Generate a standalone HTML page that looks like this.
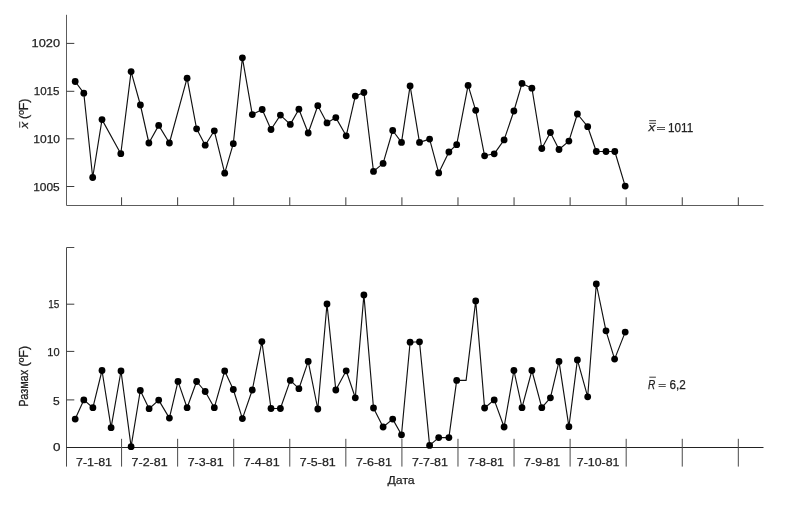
<!DOCTYPE html>
<html lang="ru"><head><meta charset="utf-8"><title>Chart</title>
<style>
html,body{margin:0;padding:0;background:#fff}
body{width:790px;height:509px;overflow:hidden}
svg{display:block}
text{font-family:"Liberation Sans",sans-serif;font-size:11.8px;fill:#222;stroke:#222;stroke-width:0.25px}
.ax{stroke:#3c3c3c;stroke-width:1;fill:none}
.ln{stroke:#111;stroke-width:1.15;fill:none;stroke-linejoin:round}
.pt{fill:#000}
</style></head><body>
<svg width="790" height="509" viewBox="0 0 790 509">
<rect width="790" height="509" fill="#fff"/>
<g class="ax"><path stroke="#5c5c5c" d="M66.5 14.8V205.5H763.5"/><path d="M66.5 43.4H74.3"/><path d="M66.5 91.3H74.3"/><path d="M66.5 138.8H74.3"/><path d="M66.5 186.5H74.3"/><path d="M121.57 205.5V197.3"/><path d="M177.64 205.5V197.3"/><path d="M233.71 205.5V197.3"/><path d="M289.77 205.5V197.3"/><path d="M345.84 205.5V197.3"/><path d="M401.91 205.5V197.3"/><path d="M457.98 205.5V197.3"/><path d="M514.05 205.5V197.3"/><path d="M570.11 205.5V197.3"/><path d="M626.18 205.5V197.3"/><path d="M682.25 205.5V197.3"/><path d="M738.32 205.5V197.3"/><path stroke="#4a4a4a" d="M74.3 247.5H66.5V466.6"/><path stroke="#222" d="M66.5 447.5H763.5"/><path d="M66.5 304.2H74.3"/><path d="M66.5 351.4H74.3"/><path d="M66.5 399.9H74.3"/><path stroke="#4a4a4a" d="M121.57 438.8V466.6"/><path stroke="#4a4a4a" d="M177.64 438.8V466.6"/><path stroke="#4a4a4a" d="M233.71 438.8V466.6"/><path stroke="#4a4a4a" d="M289.77 438.8V466.6"/><path stroke="#4a4a4a" d="M345.84 438.8V466.6"/><path stroke="#4a4a4a" d="M401.91 438.8V466.6"/><path stroke="#4a4a4a" d="M457.98 438.8V466.6"/><path stroke="#4a4a4a" d="M514.05 438.8V466.6"/><path stroke="#4a4a4a" d="M570.11 438.8V466.6"/><path stroke="#4a4a4a" d="M626.18 438.8V466.6"/><path stroke="#4a4a4a" d="M682.25 438.8V466.6"/><path stroke="#4a4a4a" d="M738.32 438.8V466.6"/></g>
<polyline class="ln" points="75.2,81.5 83.8,93.2 92.7,177.5 102.0,119.6 120.8,153.7 131.1,71.6 140.4,105.0 148.9,143.0 158.7,125.4 169.4,143.0 187.1,78.2 196.6,128.8 205.2,145.2 214.3,130.8 224.7,173.2 233.3,143.7 242.4,57.8 252.3,114.6 262.2,109.5 271.0,129.5 280.4,115.1 290.3,124.4 298.9,109.2 308.2,133.0 317.8,105.7 327.0,122.9 335.8,117.6 346.2,135.8 355.3,96.1 363.9,92.5 373.5,171.4 383.1,163.4 392.7,130.5 401.5,142.4 410.1,85.9 419.5,142.4 429.6,139.1 438.7,172.9 448.9,152.0 456.7,144.7 468.1,85.4 475.7,110.3 484.6,155.8 494.2,153.8 504.1,139.9 513.9,111.0 522.0,83.4 531.9,88.2 541.8,148.5 550.4,132.5 559.0,149.5 568.9,141.1 577.4,114.0 587.7,126.7 596.3,151.5 606.0,151.5 614.8,151.5 625.2,186.1"/>
<g class="pt"><circle cx="75.2" cy="81.5" r="3.4"/><circle cx="83.8" cy="93.2" r="3.4"/><circle cx="92.7" cy="177.5" r="3.4"/><circle cx="102.0" cy="119.6" r="3.4"/><circle cx="120.8" cy="153.7" r="3.4"/><circle cx="131.1" cy="71.6" r="3.4"/><circle cx="140.4" cy="105.0" r="3.4"/><circle cx="148.9" cy="143.0" r="3.4"/><circle cx="158.7" cy="125.4" r="3.4"/><circle cx="169.4" cy="143.0" r="3.4"/><circle cx="187.1" cy="78.2" r="3.4"/><circle cx="196.6" cy="128.8" r="3.4"/><circle cx="205.2" cy="145.2" r="3.4"/><circle cx="214.3" cy="130.8" r="3.4"/><circle cx="224.7" cy="173.2" r="3.4"/><circle cx="233.3" cy="143.7" r="3.4"/><circle cx="242.4" cy="57.8" r="3.4"/><circle cx="252.3" cy="114.6" r="3.4"/><circle cx="262.2" cy="109.5" r="3.4"/><circle cx="271.0" cy="129.5" r="3.4"/><circle cx="280.4" cy="115.1" r="3.4"/><circle cx="290.3" cy="124.4" r="3.4"/><circle cx="298.9" cy="109.2" r="3.4"/><circle cx="308.2" cy="133.0" r="3.4"/><circle cx="317.8" cy="105.7" r="3.4"/><circle cx="327.0" cy="122.9" r="3.4"/><circle cx="335.8" cy="117.6" r="3.4"/><circle cx="346.2" cy="135.8" r="3.4"/><circle cx="355.3" cy="96.1" r="3.4"/><circle cx="363.9" cy="92.5" r="3.4"/><circle cx="373.5" cy="171.4" r="3.4"/><circle cx="383.1" cy="163.4" r="3.4"/><circle cx="392.7" cy="130.5" r="3.4"/><circle cx="401.5" cy="142.4" r="3.4"/><circle cx="410.1" cy="85.9" r="3.4"/><circle cx="419.5" cy="142.4" r="3.4"/><circle cx="429.6" cy="139.1" r="3.4"/><circle cx="438.7" cy="172.9" r="3.4"/><circle cx="448.9" cy="152.0" r="3.4"/><circle cx="456.7" cy="144.7" r="3.4"/><circle cx="468.1" cy="85.4" r="3.4"/><circle cx="475.7" cy="110.3" r="3.4"/><circle cx="484.6" cy="155.8" r="3.4"/><circle cx="494.2" cy="153.8" r="3.4"/><circle cx="504.1" cy="139.9" r="3.4"/><circle cx="513.9" cy="111.0" r="3.4"/><circle cx="522.0" cy="83.4" r="3.4"/><circle cx="531.9" cy="88.2" r="3.4"/><circle cx="541.8" cy="148.5" r="3.4"/><circle cx="550.4" cy="132.5" r="3.4"/><circle cx="559.0" cy="149.5" r="3.4"/><circle cx="568.9" cy="141.1" r="3.4"/><circle cx="577.4" cy="114.0" r="3.4"/><circle cx="587.7" cy="126.7" r="3.4"/><circle cx="596.3" cy="151.5" r="3.4"/><circle cx="606.0" cy="151.5" r="3.4"/><circle cx="614.8" cy="151.5" r="3.4"/><circle cx="625.2" cy="186.1" r="3.4"/></g>
<polyline class="ln" points="75.2,419.1 83.8,399.9 92.9,407.7 102.0,370.5 111.1,427.7 121.0,371.0 131.1,446.7 140.3,390.5 149.1,408.7 158.7,400.1 169.4,418.1 178.0,381.4 187.1,407.7 196.6,381.5 205.2,391.5 214.3,407.7 224.7,371.0 233.3,389.5 242.4,418.6 252.3,390.0 261.9,341.6 271.0,408.5 280.4,408.5 290.3,380.4 298.9,388.7 308.2,361.4 317.8,409.0 327.0,304.0 335.8,390.0 346.2,370.8 355.3,397.8 363.9,294.9 373.5,408.0 383.1,427.0 392.7,419.1 401.5,434.8 410.1,342.2 419.5,341.8 429.6,445.4 438.7,437.6 448.9,437.6 456.7,380.4 466.1,380.4 475.7,300.9 484.6,408.0 494.2,399.9 504.1,427.0 513.9,370.5 522.0,407.7 531.9,370.5 541.8,407.7 550.4,397.8 559.0,361.4 568.9,426.7 577.4,359.9 587.7,396.8 596.3,284.0 606.0,330.8 614.6,359.1 625.2,332.1"/>
<g class="pt"><circle cx="75.2" cy="419.1" r="3.4"/><circle cx="83.8" cy="399.9" r="3.4"/><circle cx="92.9" cy="407.7" r="3.4"/><circle cx="102.0" cy="370.5" r="3.4"/><circle cx="111.1" cy="427.7" r="3.4"/><circle cx="121.0" cy="371.0" r="3.4"/><circle cx="131.1" cy="446.7" r="3.4"/><circle cx="140.3" cy="390.5" r="3.4"/><circle cx="149.1" cy="408.7" r="3.4"/><circle cx="158.7" cy="400.1" r="3.4"/><circle cx="169.4" cy="418.1" r="3.4"/><circle cx="178.0" cy="381.4" r="3.4"/><circle cx="187.1" cy="407.7" r="3.4"/><circle cx="196.6" cy="381.5" r="3.4"/><circle cx="205.2" cy="391.5" r="3.4"/><circle cx="214.3" cy="407.7" r="3.4"/><circle cx="224.7" cy="371.0" r="3.4"/><circle cx="233.3" cy="389.5" r="3.4"/><circle cx="242.4" cy="418.6" r="3.4"/><circle cx="252.3" cy="390.0" r="3.4"/><circle cx="261.9" cy="341.6" r="3.4"/><circle cx="271.0" cy="408.5" r="3.4"/><circle cx="280.4" cy="408.5" r="3.4"/><circle cx="290.3" cy="380.4" r="3.4"/><circle cx="298.9" cy="388.7" r="3.4"/><circle cx="308.2" cy="361.4" r="3.4"/><circle cx="317.8" cy="409.0" r="3.4"/><circle cx="327.0" cy="304.0" r="3.4"/><circle cx="335.8" cy="390.0" r="3.4"/><circle cx="346.2" cy="370.8" r="3.4"/><circle cx="355.3" cy="397.8" r="3.4"/><circle cx="363.9" cy="294.9" r="3.4"/><circle cx="373.5" cy="408.0" r="3.4"/><circle cx="383.1" cy="427.0" r="3.4"/><circle cx="392.7" cy="419.1" r="3.4"/><circle cx="401.5" cy="434.8" r="3.4"/><circle cx="410.1" cy="342.2" r="3.4"/><circle cx="419.5" cy="341.8" r="3.4"/><circle cx="429.6" cy="445.4" r="3.4"/><circle cx="438.7" cy="437.6" r="3.4"/><circle cx="448.9" cy="437.6" r="3.4"/><circle cx="456.7" cy="380.4" r="3.4"/><circle cx="475.7" cy="300.9" r="3.4"/><circle cx="484.6" cy="408.0" r="3.4"/><circle cx="494.2" cy="399.9" r="3.4"/><circle cx="504.1" cy="427.0" r="3.4"/><circle cx="513.9" cy="370.5" r="3.4"/><circle cx="522.0" cy="407.7" r="3.4"/><circle cx="531.9" cy="370.5" r="3.4"/><circle cx="541.8" cy="407.7" r="3.4"/><circle cx="550.4" cy="397.8" r="3.4"/><circle cx="559.0" cy="361.4" r="3.4"/><circle cx="568.9" cy="426.7" r="3.4"/><circle cx="577.4" cy="359.9" r="3.4"/><circle cx="587.7" cy="396.8" r="3.4"/><circle cx="596.3" cy="284.0" r="3.4"/><circle cx="606.0" cy="330.8" r="3.4"/><circle cx="614.6" cy="359.1" r="3.4"/><circle cx="625.2" cy="332.1" r="3.4"/></g>
<text x="31.6" y="47.4" textLength="28.4" lengthAdjust="spacingAndGlyphs">1020</text><text x="33.7" y="95.3" textLength="25.8" lengthAdjust="spacingAndGlyphs">1015</text><text x="33.3" y="142.8" textLength="26.7" lengthAdjust="spacingAndGlyphs">1010</text><text x="33.2" y="190.8" textLength="26.5" lengthAdjust="spacingAndGlyphs">1005</text><text x="48.2" y="308.1" textLength="11.1" lengthAdjust="spacingAndGlyphs">15</text><text x="47.3" y="355.7" textLength="12.3" lengthAdjust="spacingAndGlyphs">10</text><text x="52.9" y="404.8" textLength="6.7" lengthAdjust="spacingAndGlyphs">5</text><text x="52.9" y="451.0" textLength="7.5" lengthAdjust="spacingAndGlyphs">0</text><text x="76.0" y="465.9" textLength="36.0" lengthAdjust="spacingAndGlyphs">7-1-81</text><text x="131.6" y="465.9" textLength="36.0" lengthAdjust="spacingAndGlyphs">7-2-81</text><text x="187.7" y="465.9" textLength="36.0" lengthAdjust="spacingAndGlyphs">7-3-81</text><text x="243.7" y="465.9" textLength="36.0" lengthAdjust="spacingAndGlyphs">7-4-81</text><text x="299.8" y="465.9" textLength="36.0" lengthAdjust="spacingAndGlyphs">7-5-81</text><text x="355.9" y="465.9" textLength="36.0" lengthAdjust="spacingAndGlyphs">7-6-81</text><text x="411.9" y="465.9" textLength="36.0" lengthAdjust="spacingAndGlyphs">7-7-81</text><text x="468.0" y="465.9" textLength="36.0" lengthAdjust="spacingAndGlyphs">7-8-81</text><text x="524.1" y="465.9" textLength="36.0" lengthAdjust="spacingAndGlyphs">7-9-81</text><text x="576.8" y="465.9" textLength="42.6" lengthAdjust="spacingAndGlyphs">7-10-81</text><text x="387.5" y="483.6" textLength="27.2" lengthAdjust="spacingAndGlyphs">Дата</text><g transform="translate(27.8 0) rotate(-90)"><text x="-128.4" y="0.0" textLength="6.6" lengthAdjust="spacingAndGlyphs" style="font-size:11.6px" font-style="italic">x</text><text x="-119.0" y="0.0" textLength="20.4" lengthAdjust="spacingAndGlyphs" style="font-size:13px;stroke-width:0.3px">(ºF)</text><text x="-406.7" y="0.0" textLength="36.8" lengthAdjust="spacingAndGlyphs" style="font-size:13px;stroke-width:0.3px">Размах</text><text x="-366.5" y="0.0" textLength="20.8" lengthAdjust="spacingAndGlyphs" style="font-size:13px;stroke-width:0.3px">(ºF)</text></g><path d="M19.7 127.7V121.6" stroke="#222" stroke-width="0.9" fill="none"/><text x="648.4" y="131.3" textLength="6.6" lengthAdjust="spacingAndGlyphs" style="font-size:11.6px" font-style="italic">x</text><text x="656.5" y="131.2" textLength="9.0" lengthAdjust="spacingAndGlyphs" style="font-size:9px">=</text><text x="668.0" y="131.5" textLength="25.2" lengthAdjust="spacingAndGlyphs" style="font-size:12.5px">1011</text><path d="M649.2 120.7H656M649.2 123.3H656" stroke="#222" stroke-width="0.9" fill="none"/><text x="647.9" y="388.5" textLength="7.3" lengthAdjust="spacingAndGlyphs" style="font-size:12.5px" font-style="italic">R</text><text x="658.2" y="388.1" textLength="7.8" lengthAdjust="spacingAndGlyphs" style="font-size:9px">=</text><text x="669.4" y="388.5" textLength="16.3" lengthAdjust="spacingAndGlyphs" style="font-size:12.5px">6,2</text><path d="M649.3 377.2H655.9" stroke="#222" stroke-width="0.9" fill="none"/>
</svg>
</body></html>
